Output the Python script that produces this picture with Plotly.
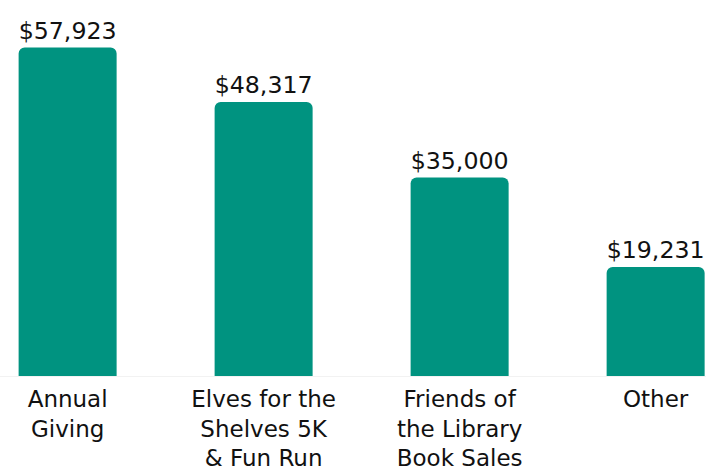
import plotly.graph_objects as go

categories = ["Annual<br>Giving", "Elves for the<br>Shelves 5K<br>& Fun Run",
              "Friends of<br>the Library<br>Book Sales", "Other"]
values = [57923, 48317, 35000, 19231]
value_labels = ["$57,923", "$48,317", "$35,000", "$19,231"]

BAR_COLOR = "#009380"
FONT = "DejaVu Sans"

fig = go.Figure(
    go.Bar(
        x=list(range(len(categories))),
        y=values,
        width=0.5,
        marker=dict(color=BAR_COLOR, line=dict(width=0), cornerradius=6),
        text=value_labels,
        textposition="outside",
        textfont=dict(family=FONT, size=24, color="#111111"),
        cliponaxis=False,
        hoverinfo="skip",
    )
)

fig.update_layout(
    width=706,
    height=476,
    margin=dict(l=0, r=0, t=0, b=100),
    plot_bgcolor="white",
    paper_bgcolor="white",
    showlegend=False,
    font=dict(family=FONT, color="#111111"),
)
fig.update_xaxes(
    range=[-0.345, 3.257],
    automargin=False,
    tickmode="array",
    tickvals=list(range(len(categories))),
    ticktext=categories,
    tickfont=dict(family=FONT, size=23, color="#111111"),
    showgrid=False,
    zeroline=False,
    showline=True,
    linecolor="#f2f2f2",
    linewidth=1,
    ticks="",
    ticklabelstandoff=2,
)
fig.update_yaxes(
    range=[0, 66300],
    automargin=False,
    visible=False,
    showgrid=False,
    zeroline=False,
)

fig.write_html(
    "out.html",
    config={"displayModeBar": False},
    post_script="document.body.style.margin='0';document.body.style.overflow='hidden';",
)
